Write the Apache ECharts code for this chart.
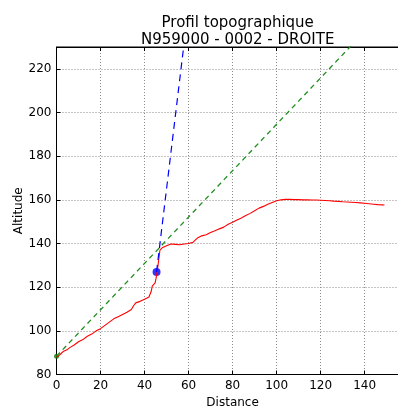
<!DOCTYPE html>
<html>
<head>
<meta charset="utf-8">
<script src="https://cdn.jsdelivr.net/npm/echarts@6/dist/echarts.min.js"></script>
<style>
  html, body { margin: 0; padding: 0; background: #fff; }
  #chart { width: 398px; height: 409px; }
</style>
</head>
<body>
<div id="chart"></div>
<script>
// profile (red)
const distance = [0, 1, 2, 3, 4, 5, 6, 8, 10, 12, 14, 16, 18, 20, 22, 24, 26, 28, 30, 32, 34, 35, 36, 38, 40, 42, 43, 43.5, 44, 44.8, 45.5, 46, 46.5, 47, 48, 50, 52, 54, 56, 58, 60, 62, 63, 64, 66, 68, 70, 72, 74, 76, 78, 80, 82, 84, 86, 88, 90, 92, 94, 96, 98, 100, 102, 104, 106, 108, 110, 112, 114, 116, 118, 120, 122, 124, 126, 128, 130, 132, 134, 136, 138, 140, 142, 144, 146, 148, 149];
const altitude = [88, 88.5, 89.5, 90.5, 91, 91.5, 92.3, 93.5, 95, 96, 97.5, 98.5, 100, 101, 102.5, 104, 105.5, 106.5, 107.5, 108.5, 109.8, 111.5, 112.8, 113.5, 114.5, 115.5, 118, 120.5, 121, 122, 125.5, 129, 133, 137, 138, 139, 139.8, 139.6, 139.4, 139.8, 140, 140.5, 141.5, 142.5, 143.5, 144, 145, 145.8, 146.7, 147.5, 148.8, 149.7, 150.8, 151.7, 152.8, 153.8, 155, 156.2, 157, 158, 158.8, 159.6, 160, 160.2, 160.2, 160.1, 160.1, 160, 160, 159.9, 159.9, 159.8, 159.7, 159.6, 159.4, 159.3, 159.1, 159, 158.9, 158.8, 158.6, 158.4, 158.2, 158, 157.8, 157.7, 157.6];

// green dashed line (start point + end)
const greenX = [0, 140];
const greenY = [88.4, 237.1];

// blue dashed line from the blue point
const blueX = [45.45, 58];
const blueY = [127, 232];
const bluePoint = [45.45, 127];

const xTicks = [0, 20, 40, 60, 80, 100, 120, 140];
const yTicks = [80, 100, 120, 140, 160, 180, 200, 220];

const chart = echarts.init(document.getElementById('chart'));
const font = 'DejaVu Sans';

const gridLine = { show: true, lineStyle: { color: '#8a8a8a', type: [1, 2], width: 1 } };
const tick = { show: true, inside: true, length: 4, lineStyle: { color: '#000' } };

chart.setOption({
  animation: false,
  title: {
    text: 'Profil topographique\nN959000 - 0002 - DROITE',
    left: 232.7,
    top: 10,
    textAlign: 'center',
    textStyle: { fontFamily: font, fontSize: 15, fontWeight: 'normal', color: '#000', lineHeight: 17 }
  },
  grid: { left: 56.5, right: -10.7, top: 47, bottom: 34.5, show: true, borderColor: '#000', borderWidth: 1,
    outerBoundsMode: 'none', containLabel: false },
  xAxis: [
    {
      type: 'value', min: 0, max: 160, interval: 20,
      name: 'Distance', nameLocation: 'middle', nameGap: 22, nameMoveOverlap: false,
      nameTextStyle: { fontFamily: font, fontSize: 12, color: '#000' },
      axisLine: { show: true, lineStyle: { color: '#000' } },
      axisTick: tick,
      axisLabel: { fontFamily: font, fontSize: 12, color: '#000', margin: 5, showMaxLabel: false,
        formatter: v => xTicks.includes(v) ? String(v) : '' },
      splitLine: gridLine
    },
    {
      type: 'value', min: 0, max: 160, interval: 20, position: 'top',
      axisLine: { show: true, lineStyle: { color: '#000' } },
      axisTick: tick, axisLabel: { show: false }, splitLine: { show: false }
    }
  ],
  yAxis: {
    type: 'value', min: 80, max: 230, interval: 20,
    name: 'Altitude', nameLocation: 'middle', nameGap: 32, nameRotate: 90, nameMoveOverlap: false,
    nameTextStyle: { fontFamily: font, fontSize: 12, color: '#000' },
    axisLine: { show: true, lineStyle: { color: '#000' } },
    axisTick: tick,
    axisLabel: { fontFamily: font, fontSize: 12, color: '#000', margin: 5, showMaxLabel: false,
      formatter: v => yTicks.includes(v) ? String(v) : '' },
    splitLine: gridLine
  },
  series: [
    {
      type: 'line', symbol: 'none', clip: true,
      data: greenX.map((x, i) => [x, greenY[i]]),
      lineStyle: { color: '#1f8f1f', width: 1.3, type: [5, 4] }
    },
    {
      type: 'line', symbol: 'none', clip: true,
      data: distance.map((x, i) => [x, altitude[i]]),
      lineStyle: { color: '#ff0000', width: 1.1 }
    },
    {
      type: 'line', symbol: 'none', clip: true,
      data: blueX.map((x, i) => [x, blueY[i]]),
      lineStyle: { color: '#0000ff', width: 1.2, type: [7, 5] }
    },
    {
      type: 'scatter', symbolSize: 8, clip: false,
      data: [bluePoint],
      itemStyle: { color: '#0000ff' }
    },
    {
      type: 'scatter', symbolSize: 5, clip: false,
      data: [[greenX[0], greenY[0]]],
      itemStyle: { color: '#008000' }
    }
  ]
});
</script>
</body>
</html>
